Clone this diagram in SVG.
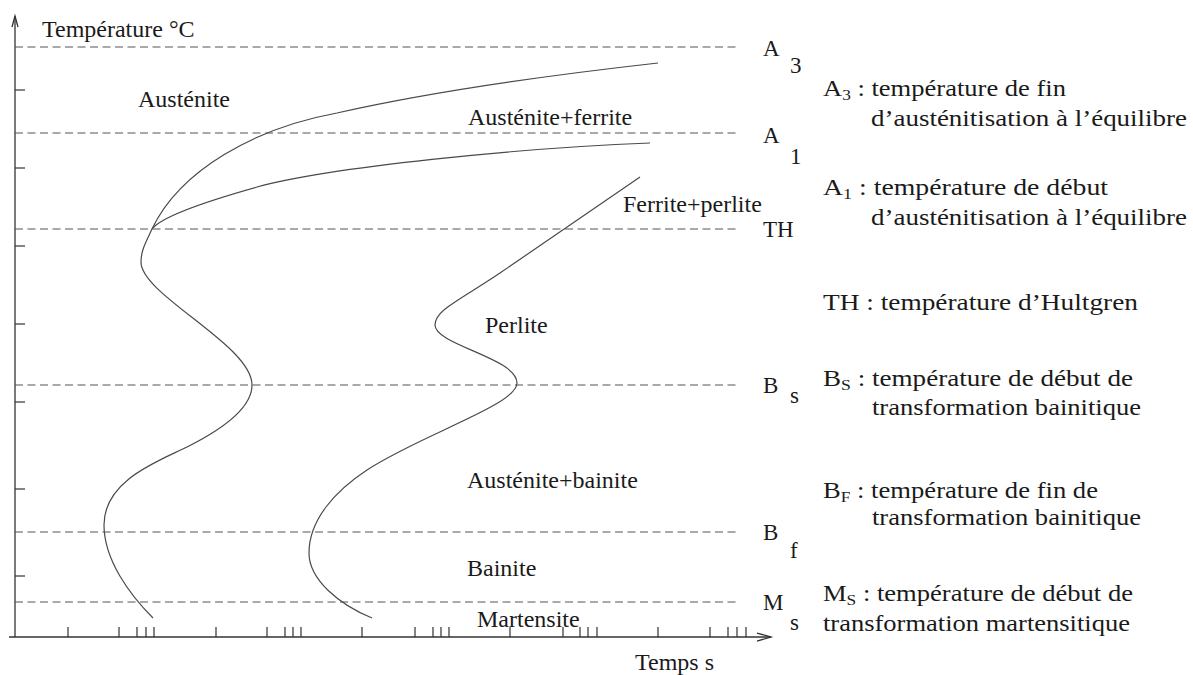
<svg xmlns="http://www.w3.org/2000/svg" width="1193" height="675" viewBox="0 0 1193 675">
<style>
  text { font-family: "Liberation Serif", "Times New Roman", serif; fill: #1a1a1a; }
  .lbl { font-size: 24px; }
  .lvl { font-size: 23px; }
  .leg { font-size: 23px; }
  .sub { font-size: 15px; }
  .axis { stroke: #333; stroke-width: 1.3; fill: none; }
  .tick { stroke: #333; stroke-width: 1.2; }
  .dash { stroke: #555; stroke-width: 1.2; stroke-dasharray: 8 4.5; fill: none; }
  .curve { stroke: #4a4a4a; stroke-width: 1.2; fill: none; }
</style>
<rect width="1193" height="675" fill="#fff"/>

<g id="axes">
  <line class="axis" x1="15" y1="637" x2="15" y2="16"/>
  <polyline class="axis" points="12,27 15,16 18,27"/>
  <line class="axis" x1="9" y1="637" x2="771" y2="637"/>
  <polyline class="axis" points="757,633 771,637 757,641"/>
  <g id="yticks">
    <line class="tick" x1="15" y1="90" x2="25" y2="90"/>
    <line class="tick" x1="15" y1="168" x2="25" y2="168"/>
    <line class="tick" x1="15" y1="246" x2="25" y2="246"/>
    <line class="tick" x1="15" y1="324" x2="25" y2="324"/>
    <line class="tick" x1="15" y1="402" x2="25" y2="402"/>
    <line class="tick" x1="15" y1="489" x2="25" y2="489"/>
    <line class="tick" x1="15" y1="576" x2="25" y2="576"/>
  </g>
  <g id="xticks">
    <path class="tick" d="M68,627V637 M119,627V637 M137,627V637 M146,627V637 M154,627V637 M216,627V637 M267,627V637 M285,627V637 M293,627V637 M301,627V637 M362,627V637 M415,627V637 M433,627V637 M441,627V637 M449,627V637 M510,627V637 M563,627V637 M580,627V637 M588,627V637 M597,627V637 M658,627V637 M710,627V637 M728,627V637 M737,627V637 M746,627V637"/>
  </g>
  <text class="lbl" x="42" y="37">Température °C</text>
  <text class="lbl" x="635" y="670">Temps s</text>
</g>

<g id="levels">
  <line class="dash" x1="15" y1="47" x2="737" y2="47"/>
  <line class="dash" x1="15" y1="133" x2="737" y2="133"/>
  <line class="dash" x1="15" y1="229" x2="737" y2="229"/>
  <line class="dash" x1="15" y1="385" x2="737" y2="385"/>
  <line class="dash" x1="15" y1="532" x2="737" y2="532"/>
  <line class="dash" x1="15" y1="602" x2="737" y2="602"/>
  <text class="lvl" x="763" y="56">A</text><text class="lvl" x="790" y="73">3</text>
  <text class="lvl" x="763" y="143">A</text><text class="lvl" x="790" y="164">1</text>
  <text class="lvl" x="763" y="237">TH</text>
  <text class="lvl" x="763" y="393">B</text><text class="lvl" x="790" y="403">s</text>
  <text class="lvl" x="763" y="540">B</text><text class="lvl" x="790" y="558">f</text>
  <text class="lvl" x="763" y="610">M</text><text class="lvl" x="790" y="630">s</text>
</g>

<g id="connectors">
  <path id="curve-start" class="curve" d="M658,63 C560,74 430,92 337,113 C255,128 180,170 152,229 C146,242 141,250 141,262 C141,295 252,345 252,385 C252,410 215,433 187,447 C159,461 104,480 104,525 C104,560 130,595 153,618"/>
  <path id="curve-start-a1" class="curve" d="M152,229 C160,218 200,203 257,187 C330,167 520,148 650,143"/>
  <path id="curve-end" class="curve" d="M640,177 L500,273 C460,300 435,310 435,325 C435,345 517,358 517,383 C517,405 420,435 367,470 C335,491 309,520 309,553 C309,580 340,605 372,618"/>
</g>

<g id="regions">
  <text class="lbl" x="138" y="107">Austénite</text>
  <text class="lbl" x="468" y="125">Austénite+ferrite</text>
  <text class="lbl" x="623" y="212">Ferrite+perlite</text>
  <text class="lbl" x="485" y="333">Perlite</text>
  <text class="lbl" x="467" y="488">Austénite+bainite</text>
  <text class="lbl" x="467" y="576">Bainite</text>
  <text class="lbl" x="477" y="627">Martensite</text>
</g>

<g id="legend">
  <text class="leg" x="823" y="96" textLength="243" lengthAdjust="spacingAndGlyphs">A<tspan class="sub" dy="4">3</tspan><tspan dy="-4"> : température de fin</tspan></text>
  <text class="leg" x="871" y="126" textLength="316" lengthAdjust="spacingAndGlyphs">d’austénitisation à l’équilibre</text>
  <text class="leg" x="823" y="195" textLength="285" lengthAdjust="spacingAndGlyphs">A<tspan class="sub" dy="4">1</tspan><tspan dy="-4"> : température de début</tspan></text>
  <text class="leg" x="871" y="225" textLength="316" lengthAdjust="spacingAndGlyphs">d’austénitisation à l’équilibre</text>
  <text class="leg" x="823" y="310" textLength="315" lengthAdjust="spacingAndGlyphs">TH : température d’Hultgren</text>
  <text class="leg" x="823" y="386" textLength="310" lengthAdjust="spacingAndGlyphs">B<tspan class="sub" dy="4">S</tspan><tspan dy="-4"> : température de début de</tspan></text>
  <text class="leg" x="872" y="415" textLength="269" lengthAdjust="spacingAndGlyphs">transformation bainitique</text>
  <text class="leg" x="823" y="498" textLength="275" lengthAdjust="spacingAndGlyphs">B<tspan class="sub" dy="4">F</tspan><tspan dy="-4"> : température de fin de</tspan></text>
  <text class="leg" x="872" y="525" textLength="269" lengthAdjust="spacingAndGlyphs">transformation bainitique</text>
  <text class="leg" x="823" y="601" textLength="310" lengthAdjust="spacingAndGlyphs">M<tspan class="sub" dy="4">S</tspan><tspan dy="-4"> : température de début de</tspan></text>
  <text class="leg" x="823" y="631" textLength="307" lengthAdjust="spacingAndGlyphs">transformation martensitique</text>
</g>
</svg>
